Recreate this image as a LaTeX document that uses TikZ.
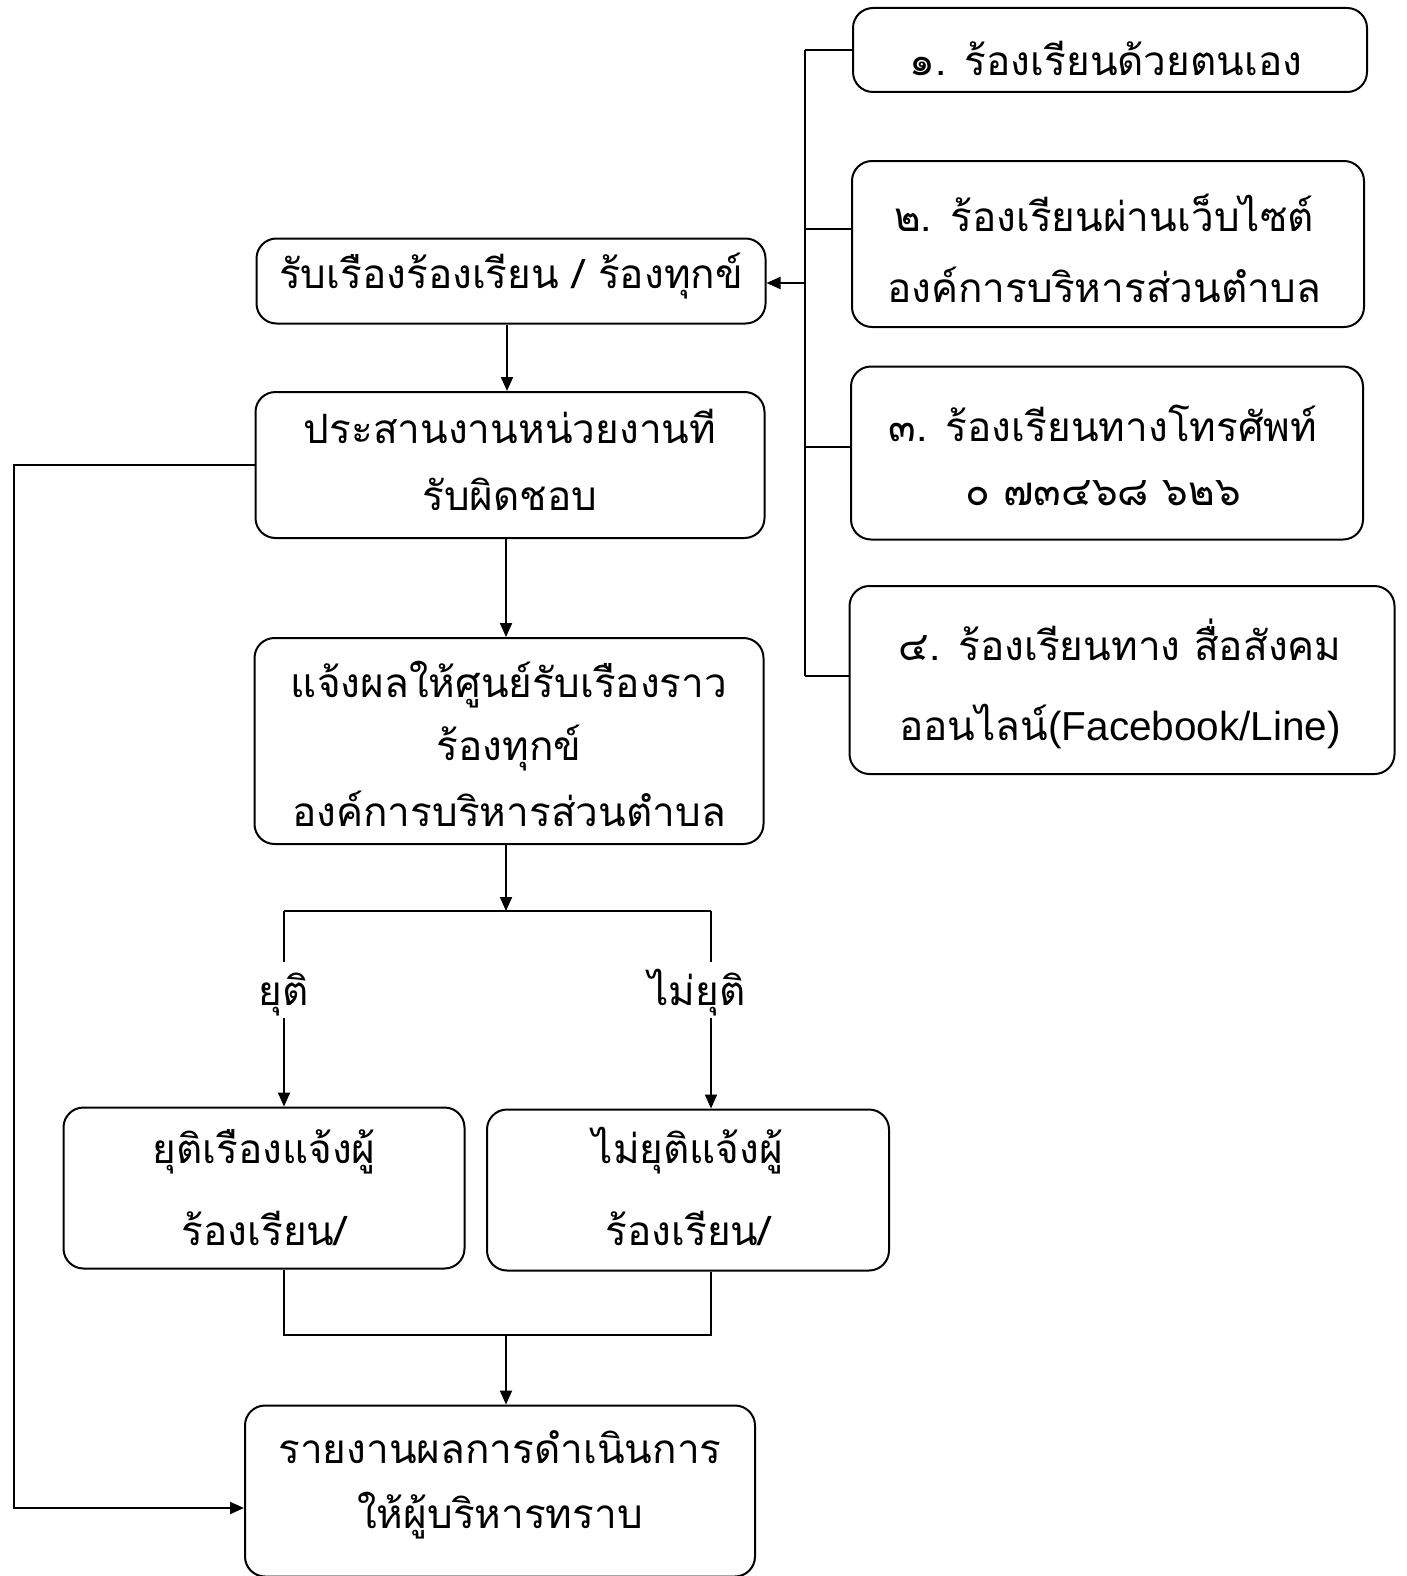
\documentclass[tikz,border=0pt]{standalone}
\usepackage{fontspec}
\setmainfont[Script=Thai]{Loma}
\newfontfamily\latinfont{Liberation Sans}
\usetikzlibrary{arrows.meta}
\tikzset{
  box/.style={draw, line width=2pt, rounded corners=20pt, inner sep=0pt},
  txt/.style={anchor=base, inner sep=0pt, font=\fontsize{40.5}{48}\selectfont},
  conn/.style={line width=2pt},
  arr/.style={line width=2pt, -{Triangle[length=14pt,width=12pt]}},
}
\begin{document}
\begin{tikzpicture}[x=1pt,y=-1pt]
\useasboundingbox (0,0) rectangle (1406,1576);
% right boxes
\node[box, minimum width=514pt, minimum height=84pt] (b1) at (1110,50) {};
\node[txt] (t1) at (1106,76) {๑. ร้องเรียนด้วยตนเอง};
\node[box, minimum width=512pt, minimum height=166pt] (b2) at (1108,244) {};
\node[txt] (t2a) at (1104,231) {๒. ร้องเรียนผ่านเว็บไซต์};
\node[txt] (t2b) at (1104,302) {องค์การบริหารส่วนตำบล};
\node[box, minimum width=512pt, minimum height=173pt] (b3) at (1107,453) {};
\node[txt] (t3a) at (1103,441) {๓. ร้องเรียนทางโทรศัพท์};
\node[txt] (t3b) at (1103,505) {๐ ๗๓๔๖๘ ๖๒๖};
\node[box, minimum width=545pt, minimum height=188pt] (b4) at (1122,680) {};
\node[txt] (t4a) at (1120,660) {๔. ร้องเรียนทาง สื่อสังคม};
\node[txt] (t4b) at (1120,740) {ออนไลน์{\latinfont(Facebook/Line)}};
% left column
\node[box, minimum width=509pt, minimum height=85pt] (recv) at (511,281) {};
\node[txt] (tr) at (511,288) {รับเรืองร้องเรียน / ร้องทุกข์};
\node[box, minimum width=509pt, minimum height=146pt] (coord) at (510,465) {};
\node[txt] (tca) at (510,443) {ประสานงานหน่วยงานที};
\node[txt] (tcb) at (510,510) {รับผิดชอบ};
\node[box, minimum width=509pt, minimum height=206pt] (notify) at (509,741) {};
\node[txt] (tna) at (509,697) {แจ้งผลให้ศูนย์รับเรืองราว};
\node[txt] (tnb) at (509,760) {ร้องทุกข์};
\node[txt] (tnc) at (509,826) {องค์การบริหารส่วนตำบล};
\node[box, minimum width=401pt, minimum height=161pt] (yuti) at (264,1188) {};
\node[txt] (tya) at (264,1163) {ยุติเรืองแจ้งผู้};
\node[txt] (tyb) at (264,1245) {ร้องเรียน/};
\node[box, minimum width=402pt, minimum height=161pt] (myuti) at (688,1190) {};
\node[txt] (tma) at (688,1163) {ไม่ยุติแจ้งผู้};
\node[txt] (tmb) at (688,1245) {ร้องเรียน/};
\node[box, minimum width=510pt, minimum height=171pt] (report) at (500,1491) {};
\node[txt] (tpa) at (500,1463) {รายงานผลการดำเนินการ};
\node[txt] (tpb) at (500,1528) {ให้ผู้บริหารทราบ};
% branch labels
\node[txt] (ly) at (284,1005) {ยุติ};
\node[txt] (lm) at (697,1005) {ไม่ยุติ};
% coordinates
\coordinate (bus1) at (805,50);
\coordinate (bus2) at (805,229);
\coordinate (busr) at (805,283);
\coordinate (bus3) at (805,447);
\coordinate (bus4) at (805,676);
\coordinate (split) at (506,911);
\coordinate (join) at (506,1335);
% bus
\draw[conn] (bus1) -- (bus4);
\draw[conn] (bus1) -- (b1.west |- bus1);
\draw[conn] (bus2) -- (b2.west |- bus2);
\draw[conn] (bus3) -- (b3.west |- bus3);
\draw[conn] (bus4) -- (b4.west |- bus4);
\draw[arr] (busr) -- (recv.east |- busr);
% main flow
\draw[arr] (recv.south -| 507,0) -- (coord.north -| 507,0);
\draw[arr] (coord.south -| 506,0) -- (notify.north -| 506,0);
\draw[arr] (notify.south -| split) -- (split);
\draw[conn] (284,911) -- (711,911);
\draw[conn] (284,911) -- (284,962);
\draw[arr] (284,1018) -- (yuti.north -| 284,0);
\draw[conn] (711,911) -- (711,962);
\draw[arr] (711,1018) -- (myuti.north -| 711,0);
\draw[conn] (yuti.south -| 284,0) -- (284,1335) -- (711,1335) -- (myuti.south -| 711,0);
\draw[arr] (join) -- (report.north -| join);
% feedback line
\draw[arr] (coord.west) -- (14,465) -- (14,1508) -- (report.west |- 0,1508);
\end{tikzpicture}
\end{document}
